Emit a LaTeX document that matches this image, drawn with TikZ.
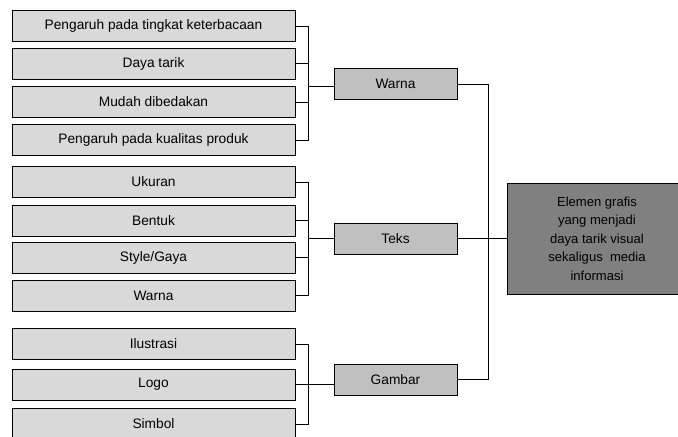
\documentclass[tikz,border=0pt]{standalone}
\usepackage{fontspec}
\setmainfont{Liberation Sans}
\usepackage{tikz}

\begin{document}
\begin{tikzpicture}[x=0.75pt,y=0.75pt,yscale=-1,xscale=1,
  subbox/.style={draw, line width=0.7pt, fill={rgb,255:red,217;green,217;blue,217}, minimum width=212.25pt, minimum height=23.25pt, inner sep=0.75pt, font=\fontsize{10.3}{12}\selectfont},
  midbox/.style={draw, line width=0.7pt, fill={rgb,255:red,192;green,192;blue,192}, minimum width=92.25pt, minimum height=23.25pt, inner sep=0.75pt, font=\fontsize{10.3}{12}\selectfont},
  mainbox/.style={draw, line width=0.7pt, fill={rgb,255:red,128;green,128;blue,128}, minimum width=135pt, minimum height=83.25pt, inner sep=0.75pt, align=center, font=\fontsize{9.8}{13.9}\selectfont},
  conn/.style={line width=0.6pt}]
\useasboundingbox (0,0) rectangle (678,436);
\clip (0,0) rectangle (678,436);

% Warna group
\node [subbox] (w1) at (153.5,26) {Pengaruh pada tingkat keterbacaan};
\node [subbox] (w2) at (153.5,63.5) {Daya tarik};
\node [subbox] (w3) at (153.5,102) {Mudah dibedakan};
\node [subbox] (w4) at (153.5,140) {Pengaruh pada kualitas produk};
% Teks group
\node [subbox] (t1) at (153.5,182) {Ukuran};
\node [subbox] (t2) at (153.5,220.5) {Bentuk};
\node [subbox] (t3) at (153.5,257.5) {Style/Gaya};
\node [subbox] (t4) at (153.5,295.5) {Warna};
% Gambar group
\node [subbox] (g1) at (153.5,344) {Ilustrasi};
\node [subbox] (g2) at (153.5,384.5) {Logo};
\node [subbox] (g3) at (153.5,424) {Simbol};

% Middle nodes
\node [midbox] (warna) at (395.5,84) {Warna};
\node [midbox] (teks) at (395.5,238.5) {Teks};
\node [midbox] (gambar) at (395.5,379.5) {Gambar};

% Main node
\node [mainbox] (main) at (597,238.5) {Elemen grafis\\yang menjadi\\daya tarik visual\\sekaligus\ \ media\\informasi};

% Junctions
\coordinate (jw) at (308,86);
\coordinate (jt) at (308,238.5);
\coordinate (jg) at (308,384.5);
\coordinate (jr) at (488,238.5);

% Connection
\draw [conn] (w1.east) -| (jw);
\draw [conn] (w4.east) -| (jw);
\draw [conn] (w2.east) -- (w2.east -| jw);
\draw [conn] (w3.east) -- (w3.east -| jw);
\draw [conn] (jw) -- (jw -| warna.west);
% Connection
\draw [conn] (t1.east) -| (jt);
\draw [conn] (t4.east) -| (jt);
\draw [conn] (t2.east) -- (t2.east -| jt);
\draw [conn] (t3.east) -- (t3.east -| jt);
\draw [conn] (jt) -- (teks.west);
% Connection
\draw [conn] (g1.east) -| (jg);
\draw [conn] (g3.east) -| (jg);
\draw [conn] (g2.east) -- (g2.east -| gambar.west);
% Connection
\draw [conn] (warna.east) -| (jr);
\draw [conn] (gambar.east) -| (jr);
\draw [conn] (teks.east) -- (main.west);

\end{tikzpicture}
\end{document}
